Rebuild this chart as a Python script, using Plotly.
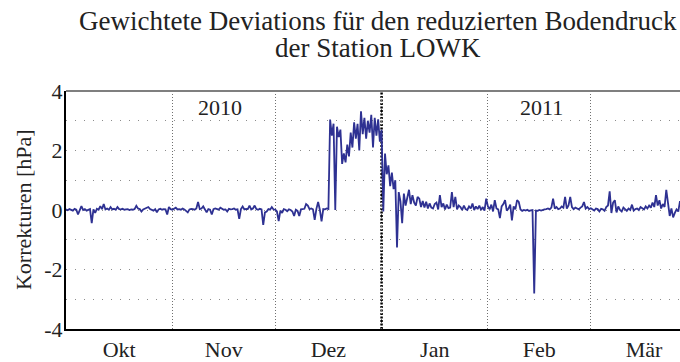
import numpy as np
import plotly.graph_objects as go

# Gewichtete Korrekturen des reduzierten Bodendrucks [hPa], zwei Werte pro Tag ab 1. Oktober 2010
korrektur_hpa = [
    0.02, -0.01, 0.03, 0.00, -0.02, 0.04, 0.01, -0.15, 0.02, 0.13, 0.00, 0.03, -0.02, 0.01, 0.03, -0.44, 0.02, -0.10, 0.04, 0.01,
    0.13, 0.03, 0.20, 0.02, 0.05, 0.01, 0.10, 0.02, 0.04, 0.01, 0.10, 0.03, 0.02, 0.04, 0.01, 0.02, 0.03, 0.00, 0.02, 0.01,
    0.03, 0.14, 0.05, 0.03, -0.05, 0.02, 0.04, 0.06, 0.10, 0.03, 0.01, -0.02, 0.03, -0.08, 0.02, 0.04, 0.01, 0.03, 0.02, -0.15,
    0.10, 0.03, 0.01, 0.04, 0.08, 0.02, 0.03, 0.01, 0.05, 0.02, -0.03, -0.08, 0.02, 0.04, 0.03, 0.01, 0.05, 0.27, 0.03, 0.05,
    0.12, 0.02, -0.08, 0.03, 0.01, -0.15, 0.03, 0.05, 0.02, 0.01, 0.08, 0.03, 0.01, 0.02, -0.05, 0.04, 0.02, 0.03, 0.05, 0.01,
    0.02, -0.30, 0.03, 0.12, 0.02, 0.04, 0.03, 0.15, 0.02, 0.05, 0.15, 0.03, 0.01, 0.04, 0.02, -0.50, -0.08, -0.05, 0.03, 0.01,
    0.10, 0.02, 0.01, -0.05, -0.37, -0.02, -0.10, 0.03, 0.01, -0.04, 0.02, 0.00, -0.05, -0.20, 0.01, -0.03, -0.20, 0.02, 0.03, 0.04,
    0.20, 0.15, 0.03, 0.05, 0.02, -0.33, 0.04, 0.27, 0.01, -0.38, 0.03, 0.02, 0.05, 0.03, 3.04, 2.50, 2.90, 0.00, 2.80, 2.45,
    2.70, 1.55, 1.90, 1.60, 2.20, 1.80, 2.60, 2.10, 2.95, 2.40, 2.90, 2.00, 3.32, 2.55, 3.10, 2.40, 3.00, 2.60, 3.20, 2.10,
    3.10, 2.50, 3.05, 2.30, 2.70, -0.05, 1.90, 1.20, 1.50, 0.80, 1.26, 0.70, 1.00, -1.26, 0.60, 0.30, -0.44, 0.55, 0.15, 0.45,
    0.68, 0.20, 0.50, 0.25, 0.15, 0.44, 0.38, 0.10, 0.30, 0.08, 0.28, 0.05, 0.22, 0.08, 0.05, 0.20, 0.25, 0.02, 0.50, 0.10,
    0.22, 0.02, 0.18, 0.06, 0.08, 0.60, 0.10, 0.44, 0.02, 0.15, 0.10, 0.00, 0.15, 0.03, 0.00, 0.12, 0.05, 0.22, 0.00, 0.12,
    0.03, 0.15, 0.00, 0.10, -0.02, 0.38, 0.12, 0.02, 0.18, -0.05, 0.33, 0.05, 0.02, -0.27, 0.12, 0.20, 0.33, -0.02, 0.05, 0.18,
    -0.35, 0.12, 0.02, 0.33, 0.27, 0.02, -0.03, 0.00, -0.02, 0.01, -0.03, -0.01, 0.00, -2.81, -0.02, -0.03, 0.00, -0.02, 0.01, 0.02,
    0.03, 0.05, 0.02, 0.08, 0.38, 0.05, 0.10, 0.03, 0.05, 0.12, 0.08, 0.44, 0.05, 0.15, 0.44, 0.10, 0.03, 0.08, 0.05, 0.02,
    0.08, 0.12, 0.27, 0.05, 0.10, 0.03, 0.06, 0.02, -0.02, 0.05, 0.03, -0.05, 0.04, 0.02, -0.03, 0.10, 0.15, 0.63, -0.10, 0.25,
    0.33, -0.08, 0.12, 0.00, -0.05, 0.08, 0.02, -0.03, 0.05, 0.00, 0.18, -0.02, 0.03, 0.05, 0.00, 0.10, 0.06, 0.02, 0.12, 0.05,
    0.15, 0.08, 0.25, 0.10, 0.50, 0.15, 0.33, 0.05, 0.20, 0.10, 0.68, 0.12, -0.20, 0.05, -0.25, -0.10, 0.02, -0.05, 0.30, 0.05,
]

# Monatsgrenzen in Tagen ab 1. Oktober und Monatsnamen
month_names = ["Okt", "Nov", "Dez", "Jan", "Feb", "Mär"]
month_bounds = [0, 31, 61, 92, 123, 153, 184]
year_names = ["2010", "2011"]
year_change_day = 92

y_tickvals = [-4, -2, 0, 2, 4]
y_ticktext = ["-4", "-2", "0", "2", "4"]

# Zeitachse: 12-stündliche Termine
t_days = np.arange(len(korrektur_hpa)) * 0.5
month_mids = [(a + b) / 2 for a, b in zip(month_bounds[:-1], month_bounds[1:])]

SERIF = "Liberation Serif"
TXT = "#222222"
GRID = "#8c8c8c"

fig = go.Figure()
fig.add_trace(go.Scatter(
    x=t_days, y=korrektur_hpa, mode="lines",
    line=dict(color="#2e3192", width=1.8),
    showlegend=False, hoverinfo="skip",
))

fig.update_layout(
    width=680, height=362,
    margin=dict(l=66, r=0, t=91, b=27),
    paper_bgcolor="white", plot_bgcolor="white",
    font=dict(family=SERIF, size=22, color=TXT),
    xaxis=dict(
        range=[0, 179], tickmode="array", tickvals=month_mids, ticktext=month_names,
        showgrid=False, zeroline=False, ticks="",
        showline=True, linecolor="black", linewidth=2,
        tickfont=dict(family=SERIF, size=22, color=TXT),
        minor=dict(tickmode="array", tickvals=month_bounds[1:-1], showgrid=True,
                   gridcolor="#707070", gridwidth=1, griddash="1px,2px"),
    ),
    yaxis=dict(
        range=[-4, 4], tickmode="array", tickvals=y_tickvals, ticktext=y_ticktext,
        showgrid=True, gridcolor=GRID, gridwidth=1.3, griddash="1.3px,7.7px",
        zeroline=False, ticks="", ticklabelstandoff=-3,
        showline=True, linecolor="black", linewidth=2,
        tickfont=dict(family=SERIF, size=22, color=TXT),
        minor=dict(dtick=1, tick0=0, showgrid=True, gridcolor=GRID,
                   gridwidth=1.3, griddash="1.3px,7.7px"),
    ),
)

# Jahreswechsel
fig.add_vline(x=year_change_day, line=dict(color="black", width=2.5, dash="2px,1.5px"), layer="below")

# obere Rahmenlinie
fig.add_shape(type="line", xref="paper", yref="paper", x0=0, x1=1, y0=1, y1=1,
              line=dict(color="#7f7f7f", width=2))

# Jahresbeschriftungen
for name, xpos in zip(year_names, [45, 138.5]):
    fig.add_annotation(x=xpos, y=3.44, xref="x", yref="y", text=name, showarrow=False,
                       xanchor="center", yanchor="middle",
                       font=dict(family=SERIF, size=22, color=TXT))

# Titel in zwei Zeilen
for line, ypos in [("Gewichtete Deviations für den reduzierten Bodendruck", 1.294),
                   ("der Station LOWK", 1.182)]:
    fig.add_annotation(x=0.508, y=ypos, xref="paper", yref="paper", text=line, showarrow=False,
                       xanchor="center", yanchor="middle",
                       font=dict(family=SERIF, size=27, color=TXT))

# Achsentitel
fig.add_annotation(x=-0.07, y=0.5, xref="paper", yref="paper", text="Korrekturen [hPa]",
                   showarrow=False, textangle=-90, xanchor="center", yanchor="middle",
                   font=dict(family=SERIF, size=22, color=TXT))

fig.write_html("out.html")
